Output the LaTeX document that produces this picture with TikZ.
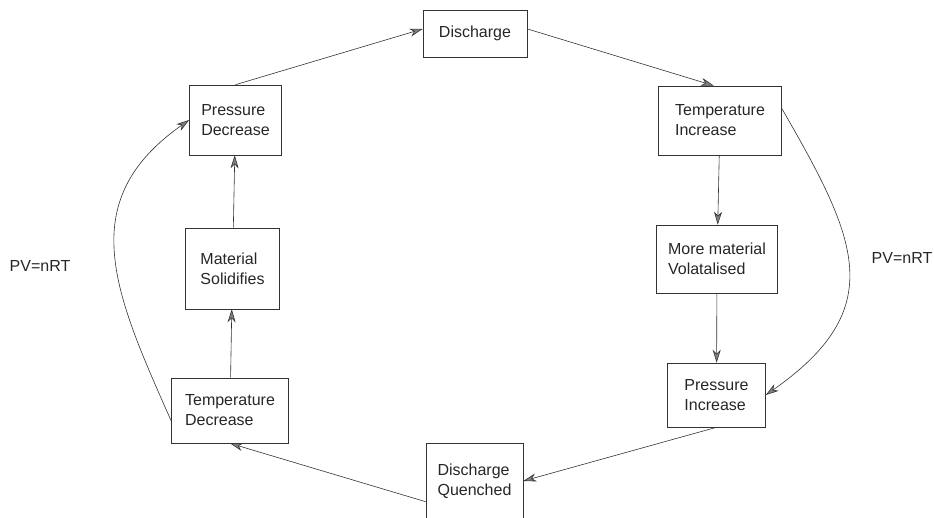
\documentclass[tikz,border=0pt]{standalone}
\usepackage{fontspec}
\setmainfont{Liberation Sans}
\usetikzlibrary{arrows.meta}

\begin{document}
\begin{tikzpicture}[x=1pt, y=1pt, every node/.style={font=\fontsize{16}{20}\selectfont, text=black!85},
	box/.style={draw=black!80, line width=0.6pt, align=left, inner sep=0pt},
	flow/.style={draw=black!80, line width=0.6pt, ->},
	>={Stealth[length=13pt, width=8pt, inset=4pt, fill=black!50]}]
	\useasboundingbox (0,0) rectangle (934,517);
	\node[box, minimum width=104, minimum height=47] (dis) at (475,483.5) {Discharge};
	\node[box, minimum width=92, minimum height=70] (pdec) at (235.5,397) {Pressure\\Decrease};
	\node[box, minimum width=94, minimum height=81] (msol) at (232.5,248.5) {Material\\Solidifies};
	\node[box, minimum width=117, minimum height=65] (tdec) at (230,106.5) {Temperature\\Decrease};
	\node[box, minimum width=97, minimum height=76] (dque) at (474.5,36) {Discharge\\Quenched};
	\node[box, minimum width=123, minimum height=69] (tinc) at (720,396.5) {Temperature\\Increase};
	\node[box, minimum width=121, minimum height=68] (mvol) at (717,258) {More material\\Volatalised};
	\node[box, minimum width=98, minimum height=64] (pinc) at (716.5,122) {Pressure\\Increase};
	\node (pvl) at (40,251) {PV=nRT};
	\node (pvr) at (902,259) {PV=nRT};
	\draw[flow] (pdec.north) -- (dis.175);
	\draw[flow] (dis.5) -- (tinc.100);
	\draw[flow] (tinc) -- (mvol);
	\draw[flow] (mvol) -- (pinc);
	\draw[flow] (tinc.11) to[out=-60, in=35, looseness=1.35] (pinc.east);
	\draw[flow] (pinc.south) -- (dque.east);
	\draw[flow] (dque.203) -- (tdec.south);
	\draw[flow] (tdec) -- (msol);
	\draw[flow] (msol) -- (pdec);
	\draw[flow] (tdec.190) to[out=114, in=215, looseness=1.2] (pdec.west);
\end{tikzpicture}
\end{document}
